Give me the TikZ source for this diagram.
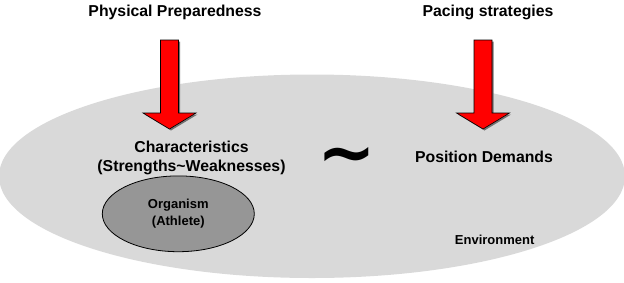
\documentclass[tikz,border=0pt]{standalone}
\usepackage{fontspec}
\setmainfont{Liberation Sans}
\newfontfamily\tildefont{DejaVu Sans}
\usetikzlibrary{positioning,shapes.geometric}
\definecolor{envgray}{HTML}{D9D9D9}
\definecolor{orggray}{HTML}{969696}

\begin{document}
\begin{tikzpicture}[x=1pt,y=-1pt,
  big/.style={font=\bfseries\fontsize{15.8}{19}\selectfont,align=center,inner sep=0pt},
  small/.style={font=\bfseries\fontsize{13}{16.5}\selectfont,align=center,inner sep=0pt},
  redarrow/.style={fill=red,draw=black,line width=0.6pt},
  arrowshadow/.style={fill=black!55,shift={(1.5,1.5)}}]
\useasboundingbox (0,0) rectangle (624,282);
\node[ellipse,fill=envgray,minimum width=626pt,minimum height=203.5pt] (env) at (312,176.25) {};
\node[ellipse,draw,line width=0.8pt,fill=orggray,minimum width=152pt,minimum height=75.8pt] (org) at (178.3,213.8) {};
\node[small] (orgtxt) at (org) {Organism\\(Athlete)};
\node[big] (phys) at (175,12) {Physical Preparedness};
\node[big] (pace) at (488,12) {Pacing strategies};
\node[big] (chars) at (191.5,158) {Characteristics\\(Strengths\textasciitilde Weaknesses)};
\node[inner sep=0pt,font=\tildefont\bfseries\fontsize{70}{70}\selectfont] (tilde) at (347,162) {\textasciitilde};
\node[big] (demand) at (484,157) {Position Demands};
\node[small] (envtxt) at (494.7,240) {Environment};
\foreach \ax in {169.5,483}{
  \fill[arrowshadow] (\ax-9,40) -- (\ax+9,40) -- (\ax+9,113) -- (\ax+26.5,113) -- (\ax,129) -- (\ax-26.5,113) -- (\ax-9,113) -- cycle;
  \draw[redarrow] (\ax-9,40) -- (\ax+9,40) -- (\ax+9,113) -- (\ax+26.5,113) -- (\ax,129) -- (\ax-26.5,113) -- (\ax-9,113) -- cycle;
}
\end{tikzpicture}
\end{document}
